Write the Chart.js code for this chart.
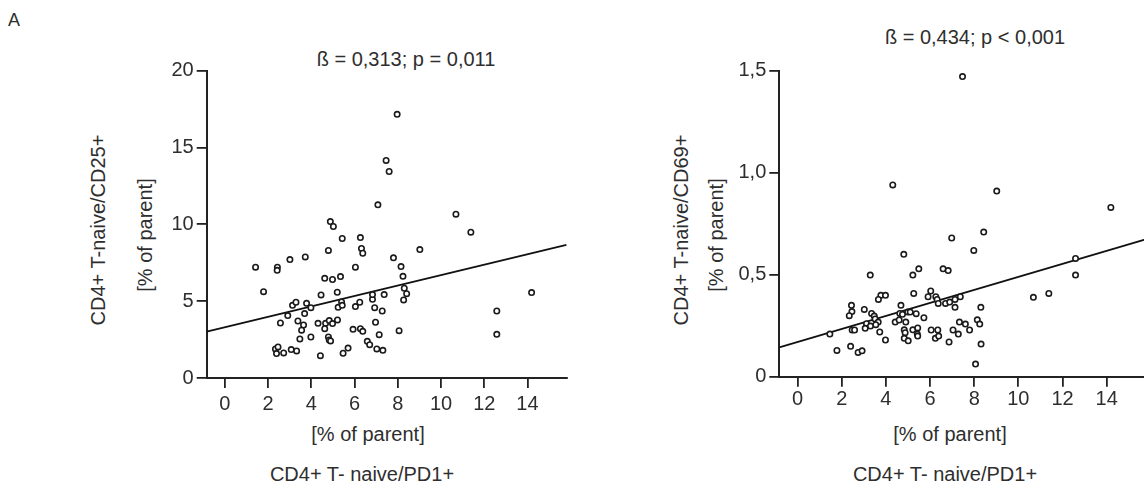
<!DOCTYPE html>
<html>
<head>
<meta charset="utf-8">
<script src="https://cdn.jsdelivr.net/npm/chart.js"></script>
<style>
  body { margin: 0; width: 1144px; height: 489px; overflow: hidden; background: #fff; position: relative; }
  canvas { position: absolute; top: 0; }
  .t { position: absolute; font-family: 'Liberation Sans', Arial, sans-serif; font-size: 20px; line-height: 20px; color: #2e2e2e; white-space: nowrap; }
  .c { transform: translateX(-50%); }
  .r { transform: translate(-50%, -50%) rotate(-90deg); }
</style>
</head>
<body>
<div class="t" style="left:8px; top:11px; font-size:18px; line-height:18px;">A</div>

<div class="t c" style="left:406px; top:49px;">ß = 0,313; p = 0,011</div>
<div class="t r" style="left:98px; top:230px;">CD4+ T-naive/CD25+</div>
<div class="t r" style="left:145px; top:235px;">[% of parent]</div>
<div class="t c" style="left:368px; top:424px;">[% of parent]</div>
<div class="t c" style="left:362px; top:464px;">CD4+ T- naive/PD1+</div>

<div class="t c" style="left:975px; top:27px;">ß = 0,434; p &lt; 0,001</div>
<div class="t r" style="left:681px; top:230px;">CD4+ T-naive/CD69+</div>
<div class="t r" style="left:716px; top:235px;">[% of parent]</div>
<div class="t c" style="left:950px; top:424px;">[% of parent]</div>
<div class="t c" style="left:945px; top:464px;">CD4+ T- naive/PD1+</div>

<canvas id="chartLeft" width="572" height="489" style="left:0px; width:572px; height:489px;"></canvas>
<canvas id="chartRight" width="580" height="489" style="left:572px; width:580px; height:489px;"></canvas>

<script>
// CD4+ T-naive/PD1+ (x) vs CD4+ T-naive/CD25+ (left) and /CD69+ (right)
const leftX = [1.42, 1.79, 2.43, 2.42, 3.01, 3.72, 2.57, 2.91, 2.34, 2.46,
  2.39, 2.72, 3.07, 3.32, 3.13, 3.29, 3.38, 3.64, 3.55, 3.47,
  3.69, 3.78, 3.98, 3.98, 4.42, 4.45, 4.31, 4.62, 4.98, 4.79,
  4.88, 5.02, 5.43, 5.35, 5.20, 5.40, 5.24, 5.43, 4.66, 4.62,
  4.83, 4.98, 5.21, 4.79, 4.83, 4.89, 5.47, 5.70, 5.93, 6.04,
  6.04, 6.24, 6.27, 6.38, 6.27, 6.32, 6.38, 6.59, 6.70, 7.03,
  7.31, 7.14, 6.97, 7.28, 6.93, 6.83, 6.83, 7.37, 7.08, 7.46,
  7.60, 7.97, 7.80, 8.15, 8.24, 8.30, 8.41, 8.27, 8.06, 9.02,
  10.69, 11.38, 12.58, 12.58, 14.19];
const leftY = [7.21, 5.62, 7.21, 7.01, 7.71, 7.88, 3.58, 4.06, 1.89, 2.02,
  1.59, 1.63, 1.85, 1.76, 4.73, 4.93, 3.71, 3.45, 3.11, 2.54,
  4.19, 4.86, 4.58, 2.67, 1.45, 5.41, 3.56, 6.49, 6.41, 8.30,
  10.18, 9.86, 9.08, 6.60, 5.58, 4.95, 4.60, 4.73, 3.56, 3.21,
  3.74, 3.54, 3.78, 2.67, 2.48, 2.41, 1.61, 1.95, 3.17, 7.21,
  4.65, 4.93, 3.21, 3.04, 9.14, 8.43, 8.12, 2.39, 2.17, 1.89,
  1.80, 2.82, 3.63, 4.36, 4.58, 5.12, 5.43, 5.43, 11.27, 14.16,
  13.44, 17.16, 7.82, 7.25, 6.62, 5.84, 5.49, 5.08, 3.08, 8.36,
  10.66, 9.49, 4.36, 2.84, 5.56];

const rightX = [7.47, 4.31, 9.02, 14.19, 8.43, 6.98, 7.98, 4.81, 12.59, 12.59,
  3.29, 5.22, 5.49, 6.59, 6.82, 10.68, 11.38, 5.26, 3.77, 3.98,
  3.66, 6.03, 5.91, 6.26, 6.32, 6.37, 6.70, 6.89, 7.13, 7.37,
  7.13, 8.30, 2.44, 2.46, 2.34, 3.02, 3.35, 3.47, 3.51, 3.65,
  3.54, 3.12, 3.30, 3.06, 2.47, 2.58, 1.46, 3.72, 3.98, 1.78,
  2.40, 2.74, 2.92, 4.68, 4.63, 4.75, 4.99, 5.10, 5.37, 5.72,
  4.42, 4.60, 4.90, 4.83, 4.87, 4.83, 5.01, 5.22, 5.42, 5.44,
  5.44, 6.05, 6.35, 6.24, 6.39, 6.86, 7.04, 7.28, 7.33, 7.60,
  7.79, 8.14, 8.25, 8.31, 8.06];
const rightY = [1.471, 0.940, 0.910, 0.830, 0.709, 0.680, 0.619, 0.600, 0.580, 0.498,
  0.498, 0.498, 0.529, 0.529, 0.520, 0.389, 0.408, 0.408, 0.399, 0.399,
  0.379, 0.420, 0.392, 0.392, 0.379, 0.359, 0.359, 0.366, 0.379, 0.392,
  0.340, 0.340, 0.350, 0.319, 0.299, 0.330, 0.310, 0.297, 0.283, 0.268,
  0.255, 0.260, 0.248, 0.237, 0.229, 0.229, 0.209, 0.219, 0.180, 0.129,
  0.149, 0.119, 0.127, 0.350, 0.310, 0.306, 0.317, 0.317, 0.309, 0.289,
  0.268, 0.278, 0.268, 0.230, 0.216, 0.188, 0.176, 0.230, 0.209, 0.239,
  0.199, 0.229, 0.229, 0.188, 0.199, 0.170, 0.229, 0.209, 0.268, 0.258,
  0.229, 0.279, 0.258, 0.160, 0.062];

// regression lines: [intercept, slope]
const leftFit = [3.30, 0.339];
const rightFit = [0.170, 0.0319];

const xTicks = [0, 2, 4, 6, 8, 10, 12, 14];
const leftYTicks = [0, 5, 10, 15, 20];
const leftYLabels = ['0', '5', '10', '15', '20'];
const rightYTicks = [0, 0.5, 1.0, 1.5];
const rightYLabels = ['0', '0,5', '1,0', '1,5'];

const FONT = "'Liberation Sans', Arial, sans-serif";
const INK = '#222';

function makeChart(id, xs, ys, fit, yTicks, yLabels, cfg) {
    const ctx = document.getElementById(id).getContext('2d');
    const pts = xs.map((x, i) => ({ x: x, y: ys[i] }));
    const line = [cfg.xMin, cfg.xMax].map(x => ({ x: x, y: fit[0] + fit[1] * x }));

    new Chart(ctx, {
        type: 'scatter',
        data: {
            datasets: [{
                data: pts,
                pointRadius: 2.7,
                pointBorderWidth: 1.6,
                borderColor: '#1a1a1a',
                backgroundColor: '#fff',
                clip: false
            }, {
                data: line,
                showLine: true,
                pointRadius: 0,
                borderColor: '#111',
                borderWidth: 1.8,
                clip: false
            }]
        },
        options: {
            responsive: false,
            animation: false,
            devicePixelRatio: 1,
            layout: { padding: cfg.padding },
            plugins: { legend: { display: false }, tooltip: { enabled: false } },
            scales: {
                x: {
                    type: 'linear',
                    min: cfg.xMin,
                    max: cfg.xMax,
                    afterBuildTicks: s => { s.ticks = xTicks.map(v => ({ value: v })); },
                    afterFit: s => { s.height = 40; },
                    grid: { drawOnChartArea: false, tickLength: 10, color: INK, lineWidth: 1.8 },
                    border: { color: INK, width: 2 },
                    ticks: {
                        autoSkip: false, maxRotation: 0, padding: cfg.xPad, color: '#2e2e2e',
                        font: { family: FONT, size: 20 },
                        callback: v => String(v)
                    }
                },
                y: {
                    type: 'linear',
                    min: yTicks[0],
                    max: yTicks[yTicks.length - 1],
                    afterBuildTicks: s => { s.ticks = yTicks.map(v => ({ value: v })); },
                    afterFit: s => { s.width = cfg.yWidth; },
                    grid: { drawOnChartArea: false, tickLength: 10, color: INK, lineWidth: 1.8 },
                    border: { color: INK, width: 2 },
                    ticks: {
                        autoSkip: false, padding: 3, color: '#2e2e2e',
                        font: { family: FONT, size: 20 },
                        callback: (v, i) => yLabels[i]
                    }
                }
            }
        }
    });
}

makeChart('chartLeft', leftX, leftY, leftFit, leftYTicks, leftYLabels, {
    xMin: -0.84, xMax: 15.8, yWidth: 206.7, xPad: 4,
    padding: { left: 0, top: 70.7, right: 2.7, bottom: 71 }
});

makeChart('chartRight', rightX, rightY, rightFit, rightYTicks, rightYLabels, {
    xMin: -0.83, xMax: 15.8, yWidth: 207.3, xPad: 1,
    padding: { left: 0, top: 70.7, right: 5.1, bottom: 72.3 }
});
</script>
</body>
</html>
